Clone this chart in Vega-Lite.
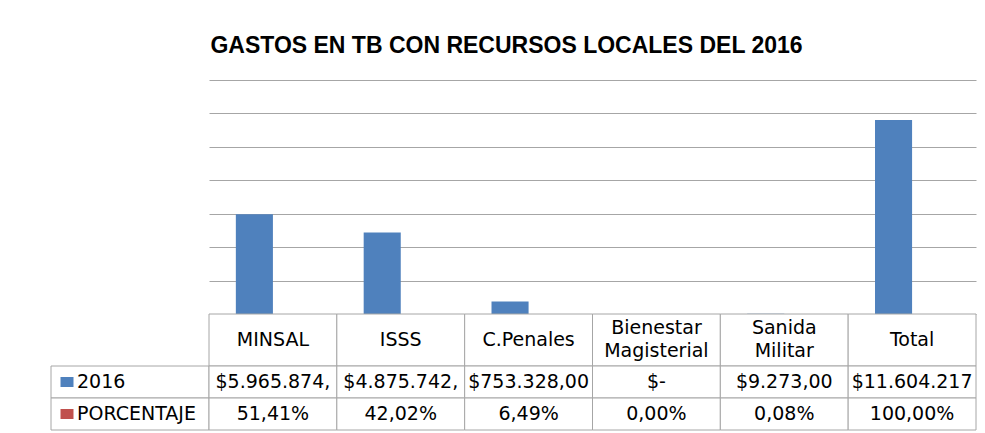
{
  "$schema": "https://vega.github.io/schema/vega-lite/v6.json",
  "padding": {"left": 50, "top": 35, "right": 10, "bottom": 3},
  "background": "white",
  "datasets": {
    "gastos": [
      {"cat": "MINSAL", "hdr": "MINSAL", "monto": 5965874, "porcentaje": 0.5141, "t2016": "$5.965.874,", "tpct": "51,41%"},
      {"cat": "ISSS", "hdr": "ISSS", "monto": 4875742, "porcentaje": 0.4202, "t2016": "$4.875.742,", "tpct": "42,02%"},
      {"cat": "C.Penales", "hdr": "C.Penales", "monto": 753328, "porcentaje": 0.0649, "t2016": "$753.328,00", "tpct": "6,49%"},
      {"cat": "Bienestar Magisterial", "hdr": "Bienestar\nMagisterial", "monto": 0, "porcentaje": 0, "t2016": "$-", "tpct": "0,00%"},
      {"cat": "Sanida Militar", "hdr": "Sanida\nMilitar", "monto": 9273, "porcentaje": 0.0008, "t2016": "$9.273,00", "tpct": "0,08%"},
      {"cat": "Total", "hdr": "Total", "monto": 11604217, "porcentaje": 1, "t2016": "$11.604.217", "tpct": "100,00%"}
    ],
    "filas": [
      {"fila": "t2016", "nombre": "2016"},
      {"fila": "tpct", "nombre": "PORCENTAJE"}
    ]
  },
  "columns": 2,
  "spacing": 0,
  "bounds": "flush",
  "resolve": {"scale": {"color": "independent", "x": "independent", "y": "independent"}},
  "concat": [
    {
      "width": 158, "height": 234,
      "data": {"values": []},
      "mark": "text"
    },
    {
      "width": 767, "height": 234,
      "title": {
        "text": "GASTOS EN TB CON RECURSOS LOCALES DEL 2016",
        "font": "Liberation Sans",
        "fontSize": 23,
        "fontWeight": "bold",
        "color": "#000000",
        "anchor": "middle",
        "frame": "group",
        "dx": -86,
        "offset": 22
      },
      "data": {"name": "gastos"},
      "transform": [{"fold": ["monto", "porcentaje"], "as": ["serie", "valor"]}],
      "mark": {"type": "bar"},
      "encoding": {
        "x": {"field": "cat", "type": "nominal", "sort": null, "axis": null,
              "scale": {"paddingInner": 0.42, "paddingOuter": 0.21}},
        "xOffset": {"field": "serie", "type": "nominal", "sort": ["monto", "porcentaje"],
                    "scale": {"paddingInner": 0, "paddingOuter": 0}},
        "y": {"field": "valor", "type": "quantitative",
              "scale": {"domain": [0, 14000000], "nice": false, "zero": true},
              "axis": {"values": [0, 2000000, 4000000, 6000000, 8000000, 10000000, 12000000, 14000000],
                       "grid": true, "gridColor": "#a6a6a6", "gridWidth": 1,
                       "labels": false, "ticks": false, "domain": false, "title": null}},
        "color": {"field": "serie", "type": "nominal",
                  "scale": {"domain": ["monto", "porcentaje"], "range": ["#4f81bd", "#c0504d"]},
                  "legend": null}
      }
    },
    {
      "width": 158, "height": 52,
      "data": {"values": []},
      "mark": "text"
    },
    {
      "width": 767, "height": 52,
      "data": {"name": "gastos"},
      "encoding": {
        "x": {"field": "cat", "type": "nominal", "sort": null, "axis": null,
              "scale": {"paddingInner": 0, "paddingOuter": 0}}
      },
      "layer": [
        {
          "mark": {"type": "rect", "fill": "white", "stroke": "#a6a6a6", "strokeWidth": 1}
        },
        {
          "transform": [{"filter": "indexof(datum.hdr, '\\n') < 0"}],
          "mark": {"type": "text", "font": "DejaVu Sans", "fontSize": 19, "color": "#000000",
                   "baseline": "middle"},
          "encoding": {"text": {"field": "hdr"}}
        },
        {
          "transform": [{"filter": "indexof(datum.hdr, '\\n') >= 0"}],
          "mark": {"type": "text", "font": "DejaVu Sans", "fontSize": 19, "color": "#000000",
                   "lineBreak": "\n", "baseline": "middle", "lineHeight": 23, "dy": -12},
          "encoding": {"text": {"field": "hdr"}}
        }
      ]
    },
    {
      "width": 158, "height": 64,
      "data": {"name": "filas"},
      "encoding": {
        "y": {"field": "fila", "type": "nominal", "sort": ["t2016", "tpct"], "axis": null,
              "scale": {"paddingInner": 0, "paddingOuter": 0}}
      },
      "layer": [
        {
          "mark": {"type": "rect", "fill": "white", "stroke": "#a6a6a6", "strokeWidth": 1}
        },
        {
          "mark": {"type": "point", "shape": "M-1.3,-1H1.3V1H-1.3Z", "filled": true, "size": 100, "opacity": 1, "xOffset": -63},
          "encoding": {
            "color": {"field": "fila", "type": "nominal",
                      "scale": {"domain": ["t2016", "tpct"], "range": ["#4f81bd", "#c0504d"]},
                      "legend": null}
          }
        },
        {
          "mark": {"type": "text", "font": "DejaVu Sans", "fontSize": 19, "color": "#000000",
                   "align": "left", "baseline": "middle", "dx": -53},
          "encoding": {"text": {"field": "nombre"}}
        }
      ]
    },
    {
      "width": 767, "height": 64,
      "data": {"name": "gastos"},
      "transform": [{"fold": ["t2016", "tpct"], "as": ["fila", "texto"]}],
      "encoding": {
        "x": {"field": "cat", "type": "nominal", "sort": null, "axis": null,
              "scale": {"paddingInner": 0, "paddingOuter": 0}},
        "y": {"field": "fila", "type": "nominal", "sort": ["t2016", "tpct"], "axis": null,
              "scale": {"paddingInner": 0, "paddingOuter": 0}}
      },
      "layer": [
        {"mark": {"type": "rect", "fill": "white", "stroke": "#a6a6a6", "strokeWidth": 1}},
        {
          "mark": {"type": "text", "font": "DejaVu Sans", "fontSize": 19, "color": "#000000", "baseline": "middle"},
          "encoding": {"text": {"field": "texto"}}
        }
      ]
    }
  ],
  "config": {
    "view": {"stroke": null},
    "concat": {"spacing": 0}
  }
}
